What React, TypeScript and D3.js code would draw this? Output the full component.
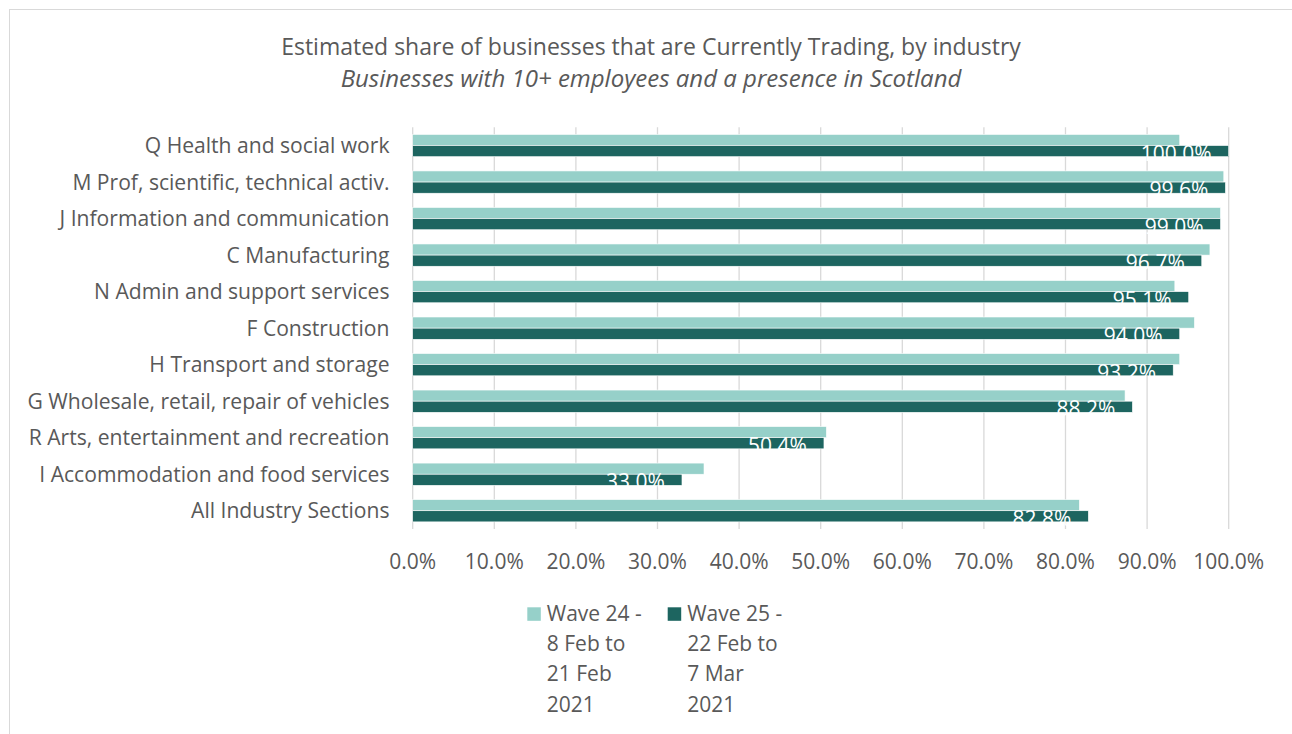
import React from "react";
import * as d3 from "d3";

const categories = [
  "Q Health and social work",
  "M Prof, scientific, technical activ.",
  "J Information and communication",
  "C Manufacturing",
  "N Admin and support services",
  "F Construction",
  "H Transport and storage",
  "G Wholesale, retail, repair of vehicles",
  "R Arts, entertainment and recreation",
  "I Accommodation and food services",
  "All Industry Sections",
];
const wave24 = [94.0, 99.4, 99.0, 97.7, 93.4, 95.8, 94.0, 87.3, 50.7, 35.7, 81.7];
const wave25 = [100.0, 99.6, 99.0, 96.7, 95.1, 94.0, 93.2, 88.2, 50.4, 33.0, 82.8];
const xTicks = [0, 10, 20, 30, 40, 50, 60, 70, 80, 90, 100];
const seriesNames = ["wave24", "wave25"];
const legendLines = [
  ["Wave 24 -", "8 Feb to", "21 Feb", "2021"],
  ["Wave 25 -", "22 Feb to", "7 Mar", "2021"],
];
const title = "Estimated share of businesses that are Currently Trading, by industry";
const subtitle = "Businesses with 10+ employees and a presence in Scotland";

const COLORS = ["#96D0C9", "#1D6560"];
const TEXT = "#595959";
const FONT = "'Open Sans', sans-serif";

export default function App() {
  const W = 1292, H = 734;
  const x = d3.scaleLinear().domain([0, 100]).range([412.7, 1228.7]);
  const y = d3.scaleBand<string>().domain(categories).range([127.3, 529]).paddingInner(0.39).paddingOuter(0.195);
  const ySub = d3.scaleBand<string>().domain(seriesNames).range([0, y.bandwidth()]);
  const values = [wave24, wave25];
  const fmt = (v: number) => d3.format(".1f")(v) + "%";
  const legendX = [527.3, 667.7];

  return (
    <svg width={W} height={H} style={{ position: "absolute", left: 0, top: 0, background: "#fff" }} fontFamily={FONT}>
      <rect x={0} y={0} width={W} height={H} fill="#fff" />
      <rect x={9.5} y={9.5} width={W + 20} height={H + 20} fill="none" stroke="#D9D9D9" strokeWidth={1} />
      <text x={651} y={55} textAnchor="middle" fontSize={23} fill={TEXT}>{title}</text>
      <text x={651} y={87} textAnchor="middle" fontSize={24} fontStyle="italic" fill={TEXT}>{subtitle}</text>
      {xTicks.map((t) => (
        <line key={"g" + t} x1={x(t)} x2={x(t)} y1={127.3} y2={529} stroke="#D9D9D9" strokeWidth={1.3} />
      ))}
      {categories.map((c, i) => (
        <g key={c}>
          {values.map((vals, s) => (
            <rect
              key={s}
              x={x(0)}
              y={(y(c) as number) + (ySub(seriesNames[s]) as number)}
              width={x(vals[i]) - x(0)}
              height={ySub.bandwidth()}
              fill={COLORS[s]}
              stroke="#fff"
              strokeWidth={0.6}
            />
          ))}
          <text x={389.5} y={(y(c) as number) + y.bandwidth() / 2 + 7.7} textAnchor="end" fontSize={21.1} fill={TEXT}>
            {c}
          </text>
          <text
            x={x(wave25[i]) - 17}
            y={(y(c) as number) + y.bandwidth() / 2 + 15}
            textAnchor="end"
            fontSize={21}
            fill="#fff"
          >
            {fmt(wave25[i])}
          </text>
        </g>
      ))}
      {xTicks.map((t) => (
        <text key={"t" + t} x={x(t)} y={569} textAnchor="middle" fontSize={21} fill={TEXT}>
          {fmt(t)}
        </text>
      ))}
      {legendLines.map((lines, s) => (
        <g key={"l" + s}>
          <rect x={legendX[s]} y={607.3} width={13.5} height={13.5} fill={COLORS[s]} />
          {lines.map((ln, k) => (
            <text key={k} x={legendX[s] + 19.5} y={620.7 + k * 30.3} fontSize={21} fill={TEXT}>
              {ln}
            </text>
          ))}
        </g>
      ))}
    </svg>
  );
}
